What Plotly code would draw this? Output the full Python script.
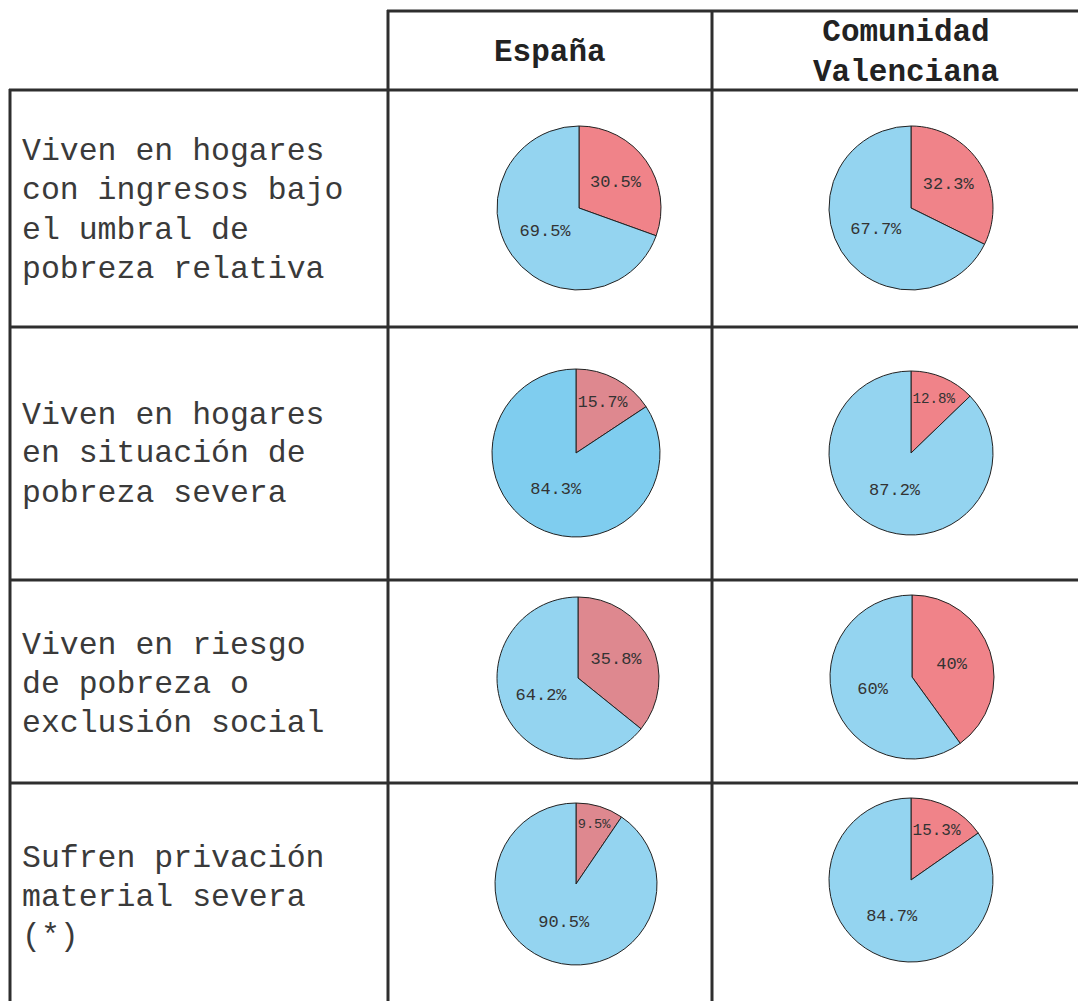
import plotly.graph_objects as go

# ---- data ----
row_labels = [
    ["Viven en hogares", "con ingresos bajo", "el umbral de", "pobreza relativa"],
    ["Viven en hogares", "en situación de", "pobreza severa"],
    ["Viven en riesgo", "de pobreza o", "exclusión social"],
    ["Sufren privación", "material severa", "(*)"],
]
col_headers = ["España", "Comunidad<br>Valenciana"]
espana_yes = [30.5, 15.7, 35.8, 9.5]
espana_no = [69.5, 84.3, 64.2, 90.5]
cv_yes = [32.3, 12.8, 40, 15.3]
cv_no = [67.7, 87.2, 60, 84.7]

# ---- styles / layout (pixels) ----
W, H = 1078, 1001
FONT = "Liberation Mono, Courier New, monospace"
RED = "#F08389"
RED2 = "#DE888F"
BLUE = "#94D4F0"
BLUE2 = "#7FCDEF"
esp_colors = [(RED, BLUE), (RED2, BLUE2), (RED2, BLUE), (RED2, BLUE)]
cv_colors = [(RED, BLUE)] * 4
# pie centres and radii in pixels
esp_geo = [(579, 208, 82), (576, 453, 84), (578, 678, 81), (576, 884, 81)]
cv_geo = [(911, 208, 82), (911, 453, 82), (912, 677, 82), (911, 880, 82)]
row_first_line_y = [152, 415, 645, 858]
LINE_STEP = 39

fig = go.Figure()


def add_pie(yes, no, geo, colors):
    cx, cy, r = geo
    fig.add_trace(go.Pie(
        values=[yes, no],
        labels=["Sí", "No"],
        text=[f"{yes:g}%", f"{no:g}%"],
        textinfo="text",
        textposition="inside",
        insidetextorientation="horizontal",
        textfont=dict(family=FONT, size=17, color="#333333"),
        sort=False,
        direction="clockwise",
        rotation=0,
        marker=dict(colors=list(colors), line=dict(color="#222222", width=1)),
        domain=dict(x=[(cx - r) / W, (cx + r) / W],
                    y=[1 - (cy + r) / H, 1 - (cy - r) / H]),
        showlegend=False,
        hoverinfo="label+percent",
    ))


for i in range(4):
    add_pie(espana_yes[i], espana_no[i], esp_geo[i], esp_colors[i])
    add_pie(cv_yes[i], cv_no[i], cv_geo[i], cv_colors[i])

# grid lines
LC = "#2e2e2e"
LW = 3
shapes = []
def hline(y, x0, x1):
    shapes.append(dict(type="line", xref="paper", yref="paper",
                       x0=x0 / W, x1=x1 / W, y0=1 - y / H, y1=1 - y / H,
                       line=dict(color=LC, width=LW)))
def vline(x, y0, y1):
    shapes.append(dict(type="line", xref="paper", yref="paper",
                       x0=x / W, x1=x / W, y0=1 - y0 / H, y1=1 - y1 / H,
                       line=dict(color=LC, width=LW)))

hline(11, 387, W)
for y in [90, 327, 580, 783]:
    hline(y, 9, W)
vline(10, 89, H)
vline(388, 10, H)
vline(712, 10, H)

annotations = []
for lines, y0 in zip(row_labels, row_first_line_y):
    for k, line in enumerate(lines):
        y = y0 + k * LINE_STEP
        annotations.append(dict(text=line, x=20 / W, y=1 - y / H, xref="paper", yref="paper",
                                xanchor="left", yanchor="middle", align="left", showarrow=False,
                                font=dict(family=FONT, size=31.5, color="#3a3a3a")))
header_x = [550, 906]
for txt, x in zip(col_headers, header_x):
    annotations.append(dict(text=f"<b>{txt}</b>", x=x / W, y=1 - 52 / H, xref="paper", yref="paper",
                            xanchor="center", yanchor="middle", align="center", showarrow=False,
                            font=dict(family=FONT, size=31, color="#222222")))

fig.update_layout(
    width=W, height=H,
    margin=dict(l=0, r=0, t=0, b=0),
    paper_bgcolor="white", plot_bgcolor="white",
    shapes=shapes, annotations=annotations,
    showlegend=False,
)

fig.write_html("out.html")
